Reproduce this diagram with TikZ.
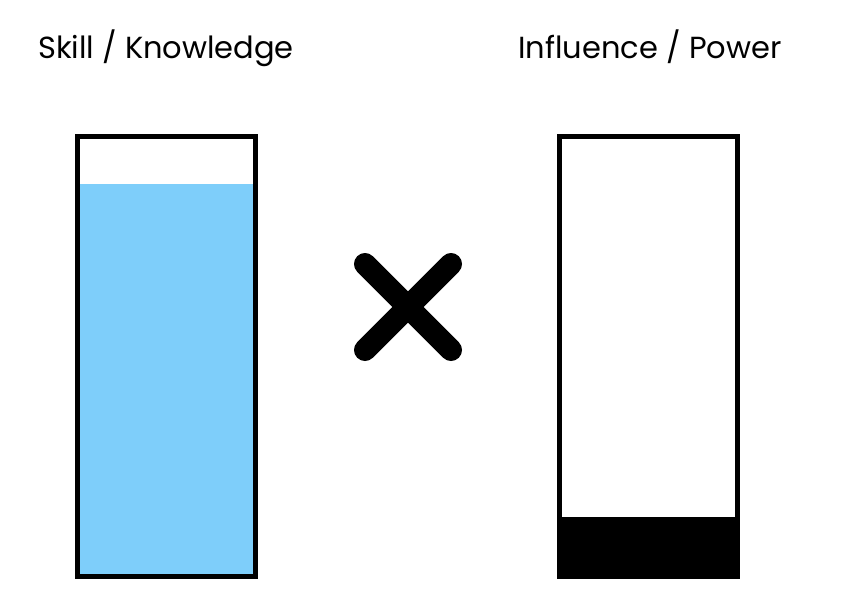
\documentclass[tikz,border=0pt]{standalone}
\usepackage{fontspec}
\setmainfont{Poppins}
\usetikzlibrary{positioning}
\definecolor{levelblue}{RGB}{126,206,250}

\def\barwidth{178pt}
\def\barheight{440pt}

\begin{document}
\begin{tikzpicture}[x=1pt,y=-1pt]
    \tikzstyle{bar}=[draw=black,line width=5pt,minimum width=\barwidth,minimum height=\barheight,inner sep=0pt,outer sep=0pt]
    \tikzstyle{title}=[font=\fontsize{30.5}{36}\selectfont,anchor=base]
    \tikzstyle{cross}=[line width=22pt,line cap=round]

    \useasboundingbox (0,0) rectangle (863,600);

    % Draw the two level bars
    \node[bar] (skill) at (166.5,356.5) {};
    \node[bar] (power) at (648.5,356.5) {};

    % Fill the levels
    \fill[levelblue] (skill.south west) rectangle ([yshift=-47pt]skill.north east);
    \fill[black] (power.south west) rectangle ([yshift=60pt]power.south east);
    \node[bar] at (skill) {};

    % Draw the times sign
    \coordinate (c) at (408,307);
    \draw[cross] ([shift={(-43,-43)}]c) -- ([shift={(43,43)}]c);
    \draw[cross] ([shift={(-43,43)}]c) -- ([shift={(43,-43)}]c);

    % Annotate the bars
    \node[title] (skill-t) at (166,58) {Skill / Knowledge};
    \node[title] (power-t) at (650,58) {Influence / Power};
\end{tikzpicture}
\end{document}
